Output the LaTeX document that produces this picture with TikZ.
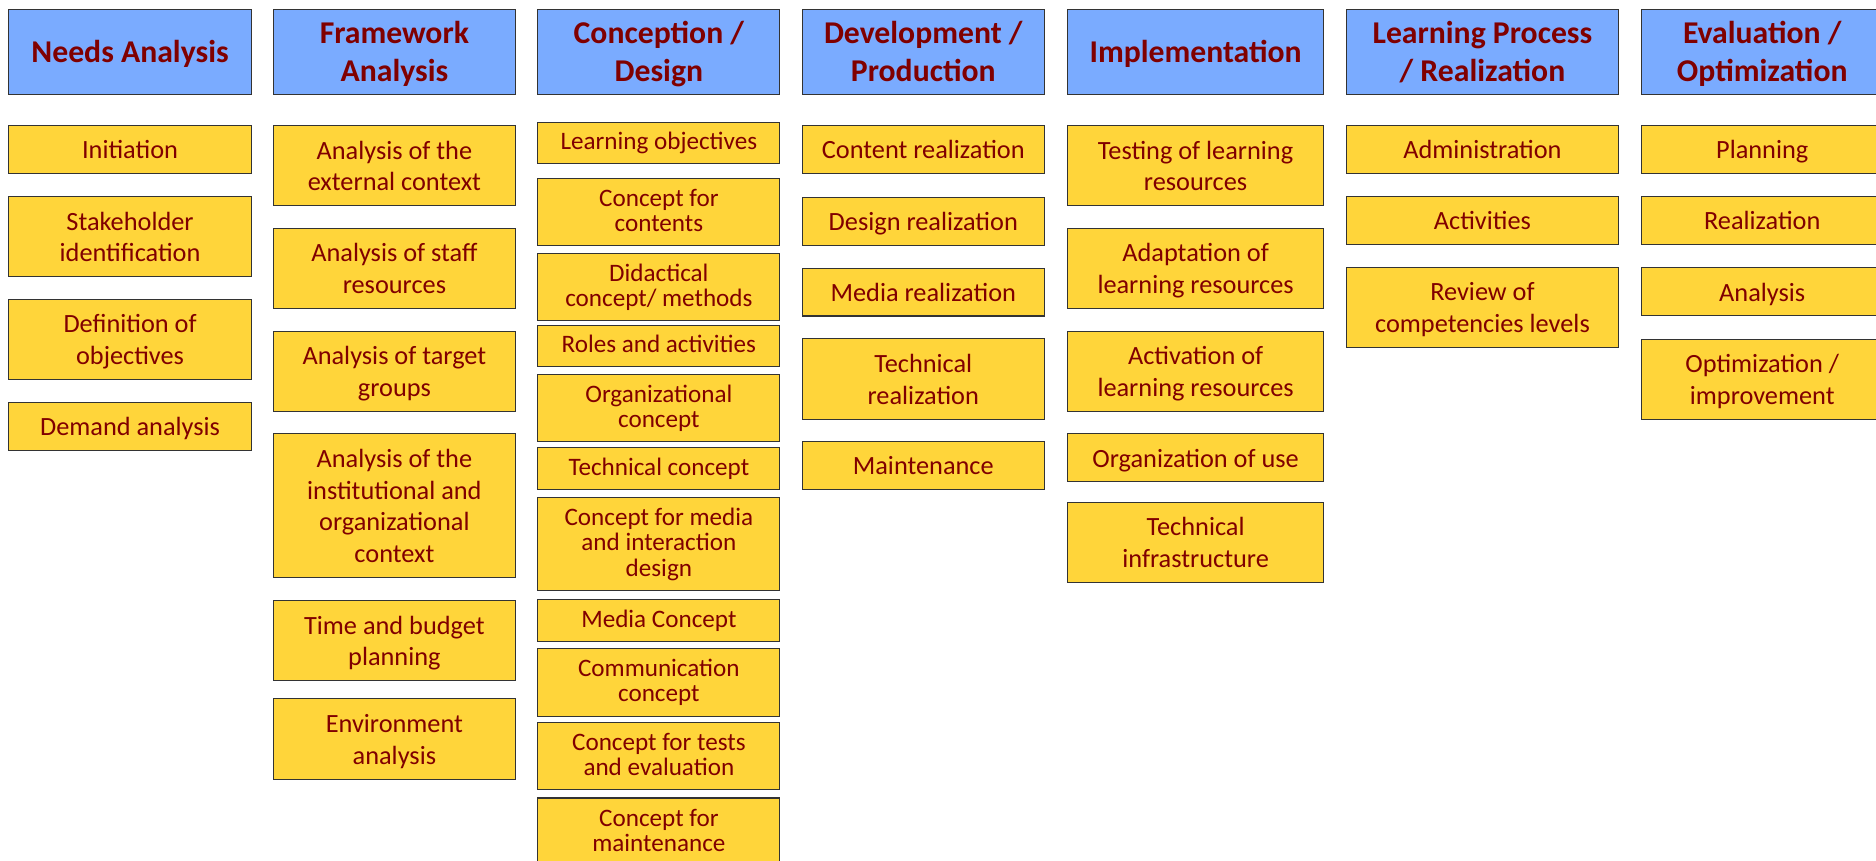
\documentclass[tikz,border=0pt]{standalone}
\usepackage{fontspec}
\setmainfont{Carlito}
\definecolor{itm}{RGB}{255,213,58}
\definecolor{hdr}{RGB}{122,171,255}
\definecolor{txt}{RGB}{128,0,0}
\newcommand\stItemA{\rule{0pt}{0.95em}}
\newcommand\stItemZ{\rule[-0.24em]{0pt}{0.24em}}
\newcommand\stColA{\rule{0pt}{0.85em}}
\newcommand\stColZ{\rule[-0.33em]{0pt}{0.33em}}
\newcommand\stHeadA{\rule{0pt}{0.95em}}
\newcommand\stHeadZ{\rule[-0.27em]{0pt}{0.27em}}
\let\sa\relax
\let\sz\relax
\tikzset{
  base/.style={draw=black!80, line width=0.9pt, anchor=north west, inner sep=0pt, align=center, text=txt},
  head/.style={base, fill=hdr, font=\bfseries\fontsize{26.5}{32}\selectfont\let\sa\stHeadA\let\sz\stHeadZ, minimum height=70.5pt},
  item/.style={base, fill=itm, font=\fontsize{22}{26.5}\selectfont\let\sa\stItemA\let\sz\stItemZ},
  citem/.style={base, fill=itm, font=\fontsize{21}{21}\selectfont\let\sa\stColA\let\sz\stColZ},
  ca/.style={minimum width=202.5pt},
  cb/.style={minimum width=202.6pt},
  cc/.style={minimum width=202.3pt},
  cd/.style={minimum width=202.1pt},
  ce/.style={minimum width=214.3pt},
  cf/.style={minimum width=227.2pt},
  cg/.style={minimum width=202.5pt},
  hA/.style={minimum height=40pt},
  hB/.style={minimum height=67pt},
}
\begin{document}
\begin{tikzpicture}[x=1pt,y=-1pt]
\fill[white] (0,0) rectangle (1568,719);
\useasboundingbox (0,0) rectangle (1568,719);
% headers
\node[head,ca] (h1) at (7,7.8) {\sa Needs Analysis\sz};
\node[head,cb] (h2) at (227.9,7.8) {\sa Framework\\Analysis\sz};
\node[head,cc] (h3) at (449.1,7.8) {\sa Conception /\\Design\sz};
\node[head,cd] (h4) at (670.2,7.8) {\sa Development /\\Production\sz};
\node[head,ce] (h5) at (891.7,7.8) {\sa Implementation\sz};
\node[head,cf] (h6) at (1125,7.8) {\sa Learning Process\\/ Realization\sz};
\node[head,cg] (h7) at (1371.2,7.8) {\sa Evaluation /\\Optimization\sz};
% column 1
\node[item,ca,hA] (a1) at (7,104.5) {\sa Initiation\sz};
\node[item,ca,hB] (a2) at (7,163.8) {\sa Stakeholder\\identification\sz};
\node[item,ca,hB] (a3) at (7,249.6) {\sa Definition of\\objectives\sz};
\node[item,ca,hA] (a4) at (7,336) {\sa Demand analysis\sz};
% column 2
\node[item,cb,hB] (b1) at (227.9,104.5) {\sa Analysis of the\\external context\sz};
\node[item,cb,hB] (b2) at (227.9,190.3) {\sa Analysis of staff\\resources\sz};
\node[item,cb,hB] (b3) at (227.9,276.4) {\sa Analysis of target\\groups\sz};
\node[item,cb,minimum height=121pt] (b4) at (227.9,361.6) {\sa Analysis of the\\institutional and\\organizational\\context\sz};
\node[item,cb,hB] (b5) at (227.9,501.5) {\sa Time and budget\\planning\sz};
\node[item,cb,hB] (b6) at (227.9,583.7) {\sa Environment\\analysis\sz};
% column 3
\node[citem,cc,minimum height=34.3pt] (c1) at (449.1,102.2) {\sa Learning objectives\sz};
\node[citem,cc,minimum height=56pt] (c2) at (449.1,148.8) {\sa Concept for\\contents\sz};
\node[citem,cc,minimum height=56pt] (c3) at (449.1,211.7) {\sa Didactical\\concept/ methods\sz};
\node[citem,cc,minimum height=34.3pt] (c4) at (449.1,271.9) {\sa Roles and activities\sz};
\node[citem,cc,minimum height=56pt] (c5) at (449.1,312.9) {\sa Organizational\\concept\sz};
\node[citem,cc,minimum height=35pt] (c6) at (449.1,373.9) {\sa Technical concept\sz};
\node[citem,cc,minimum height=77.7pt] (c7) at (449.1,415.7) {\sa Concept for media\\and interaction\\design\sz};
\node[citem,cc,minimum height=34.5pt] (c8) at (449.1,501) {\sa Media Concept\sz};
\node[citem,cc,minimum height=56.3pt] (c9) at (449.1,541.9) {\sa Communication\\concept\sz};
\node[citem,cc,minimum height=56pt] (c10) at (449.1,603.7) {\sa Concept for tests\\and evaluation\sz};
\node[citem,cc,minimum height=57pt] (c11) at (449.1,666.5) {\sa Concept for\\maintenance\sz};
% column 4
\node[item,cd,hA] (d1) at (670.2,104.5) {\sa Content realization\sz};
\node[item,cd,hA] (d2) at (670.2,164.4) {\sa Design realization\sz};
\node[item,cd,hA] (d3) at (670.2,223.7) {\sa Media realization\sz};
\node[item,cd,hB] (d4) at (670.2,282.8) {\sa Technical\\realization\sz};
\node[item,cd,hA] (d5) at (670.2,368.6) {\sa Maintenance\sz};
% column 5
\node[item,ce,hB] (e1) at (891.7,104.5) {\sa Testing of learning\\resources\sz};
\node[item,ce,hB] (e2) at (891.7,190.3) {\sa Adaptation of\\learning resources\sz};
\node[item,ce,hB] (e3) at (891.7,276.4) {\sa Activation of\\learning resources\sz};
\node[item,ce,hA] (e4) at (891.7,362.2) {\sa Organization of use\sz};
\node[item,ce,hB] (e5) at (891.7,419.3) {\sa Technical\\infrastructure\sz};
% column 6
\node[item,cf,hA] (f1) at (1125,104.5) {\sa Administration\sz};
\node[item,cf,hA] (f2) at (1125,163.8) {\sa Activities\sz};
\node[item,cf,hB] (f3) at (1125,222.9) {\sa Review of\\competencies levels\sz};
% column 7
\node[item,cg,hA] (g1) at (1371.2,104.5) {\sa Planning\sz};
\node[item,cg,hA] (g2) at (1371.2,163.8) {\sa Realization\sz};
\node[item,cg,hA] (g3) at (1371.2,223.5) {\sa Analysis\sz};
\node[item,cg,minimum height=66.6pt] (g4) at (1371.2,283.4) {\sa Optimization /\\improvement\sz};
\end{tikzpicture}
\end{document}
